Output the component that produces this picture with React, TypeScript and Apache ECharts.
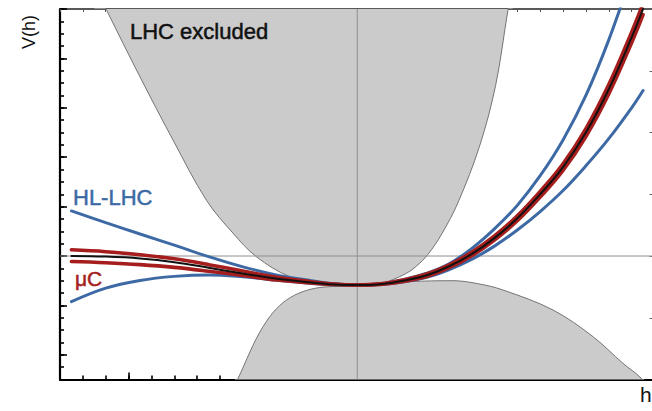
import React, { useEffect, useRef } from "react";
import * as echarts from "echarts";

// Field value h (axis units) and potential V(h)
const hGrid = [-12.5, -11, -9.5, -8, -6.5, -5, -3.5, -2, -1, 0, 1, 2, 3, 4, 5, 6, 7, 8, 9, 10, 11, 12, 12.5];
const smV = [0.0, -0.05, -0.2, -0.5, -0.95, -1.42, -1.85, -2.15, -2.3, -2.35, -2.28, -2.0, -1.58, -0.85, 0.15, 1.45, 3.05, 5.0, 7.2, 10.0, 13.5, 17.7, 20.0];
const muCUpper = [0.5, 0.35, 0.1, -0.22, -0.7, -1.22, -1.72, -2.08, -2.27, -2.35, -2.3, -2.06, -1.68, -0.97, 0.0, 1.28, 2.85, 4.77, 6.93, 9.68, 13.12, 17.27, 19.55];
const muCLower = [-0.45, -0.55, -0.7, -0.92, -1.23, -1.58, -1.95, -2.18, -2.31, -2.35, -2.26, -1.94, -1.48, -0.73, 0.3, 1.62, 3.25, 5.23, 7.47, 10.32, 13.88, 18.13, 20.45];
const hlUpper = [3.65, 2.7, 1.78, 0.88, -0.05, -0.88, -1.55, -2.0, -2.25, -2.35, -2.3, -2.1, -1.75, -1.12, -0.28, 0.8, 2.1, 3.6, 5.3, 7.3, 9.5, 12.0, 13.4];
const hlLower = [-3.7, -2.6, -1.98, -1.65, -1.53, -1.68, -1.97, -2.22, -2.32, -2.35, -2.25, -1.92, -1.42, -0.65, 0.6, 2.2, 4.1, 6.5, 9.4, 13.0, 17.5, 22.8, 25.7];

// LHC excluded regions (boundaries)
const lhcTopH = [-11.5, -10.96, -9.5, -8.06, -6.59, -5.44, -4.41, -2.95, -1.64, -0.5, 0.5, 1.1, 2.1, 2.6, 3.1, 3.7, 4.4, 5.35, 6.05, 6.59, 6.8];
const lhcTopV = [22, 19.9, 14.5, 9.4, 4.5, 1.86, -0.06, -1.68, -2.2, -2.3, -2.3, -2.2, -1.45, -0.8, 0.15, 1.8, 4.3, 8.9, 13.8, 19.9, 22];
const lhcBotH = [-5.35, -5.21, -4.12, -3.09, -1.64, -0.5, 0.5, 1.28, 2.3, 4.19, 5.3, 6.37, 8.56, 10.31, 11.62, 12.42, 12.55];
const lhcBotV = [-10.5, -9.9, -5.72, -3.56, -2.55, -2.45, -2.42, -2.3, -2.08, -2.0, -2.25, -2.75, -4.37, -6.53, -8.69, -9.9, -10.5];

// Axes
const hMin = -13, hMax = 13;
const vMin = -10, vMax = 20;
const hMajorTicks = [-10, -5, 0, 5, 10];
const vMajorTicks = [-8, -4, 0, 4, 8, 12, 16, 20];
const vRightTicks = [-5, 0, 5, 10, 15];

const BLUE = "#3d6aa4";
const RED = "#a51d1d";
const FONT = "'Liberation Sans', Arial, Helvetica, sans-serif";

const zip = (xs: number[], ys: number[]) => xs.map((x, i) => [x, ys[i]]);

function curve(name: string, ys: number[], color: string, width: number, z: number) {
  return {
    name,
    type: "line",
    data: zip(hGrid, ys),
    smooth: 0.4,
    showSymbol: false,
    symbol: "none",
    clip: true,
    z,
    lineStyle: { color, width, cap: "round" },
    silent: true,
  };
}

function buildOption() {
  const baseX = {
    type: "value",
    min: hMin,
    max: hMax,
    axisLabel: { show: false },
    splitLine: { show: false },
  };
  const baseY = {
    type: "value",
    min: vMin,
    max: vMax,
    axisLabel: { show: false },
    splitLine: { show: false },
  };
  return {
    animation: false,
    grid: { left: 60, right: 0.5, top: 9, bottom: 31.5, show: false },
    xAxis: [
      {
        ...baseX,
        interval: 1,
        position: "bottom",
        axisLine: { show: true, onZero: false, lineStyle: { color: "#000", width: 2.2 } },
        axisTick: { show: true, inside: true, length: 4, lineStyle: { color: "#000", width: 1.6 } },
      },
      {
        ...baseX,
        position: "bottom",
        axisLine: { show: false, onZero: false },
        axisTick: { show: true, inside: true, length: 7, customValues: hMajorTicks, lineStyle: { color: "#000", width: 1.6 } },
      },
      {
        ...baseX,
        interval: 1,
        position: "top",
        axisLine: { show: true, onZero: false, lineStyle: { color: "#222", width: 1.6 } },
        axisTick: { show: true, inside: true, length: 3, lineStyle: { color: "#555", width: 1 } },
      },
    ],
    yAxis: [
      {
        ...baseY,
        interval: 1,
        position: "left",
        axisLine: { show: true, onZero: false, lineStyle: { color: "#000", width: 2.2 } },
        axisTick: { show: true, inside: true, length: 4, lineStyle: { color: "#000", width: 1.6 } },
      },
      {
        ...baseY,
        position: "left",
        axisLine: { show: false, onZero: false },
        axisTick: { show: true, inside: true, length: 7, customValues: vMajorTicks, lineStyle: { color: "#000", width: 1.6 } },
      },
      {
        ...baseY,
        position: "right",
        axisLine: { show: true, onZero: false, lineStyle: { color: "#000", width: 2 } },
        axisTick: { show: true, inside: true, length: 5, customValues: vRightTicks, lineStyle: { color: "#666", width: 1 } },
      },
    ],
    series: [
      {
        name: "LHC excluded (upper)",
        type: "line",
        data: zip(lhcTopH, lhcTopV),
        smooth: 0.35,
        showSymbol: false,
        symbol: "none",
        clip: true,
        z: 1,
        silent: true,
        lineStyle: { color: "#747474", width: 1 },
        areaStyle: { color: "#cbcbcb", opacity: 1, origin: "end" },
      },
      {
        name: "LHC excluded (lower)",
        type: "line",
        data: zip(lhcBotH, lhcBotV),
        smooth: 0.35,
        showSymbol: false,
        symbol: "none",
        clip: true,
        z: 1,
        silent: true,
        lineStyle: { color: "#747474", width: 1 },
        areaStyle: { color: "#cbcbcb", opacity: 1, origin: "start" },
      },
      {
        name: "zero V",
        type: "line",
        data: [[hMin, 0], [hMax, 0]],
        showSymbol: false,
        symbol: "none",
        z: 2,
        silent: true,
        lineStyle: { color: "#8e8e8e", width: 1 },
      },
      {
        name: "zero h",
        type: "line",
        data: [[0, vMin], [0, vMax]],
        showSymbol: false,
        symbol: "none",
        z: 2,
        silent: true,
        lineStyle: { color: "#8e8e8e", width: 1 },
      },
      curve("HL-LHC a", hlUpper, BLUE, 3, 3),
      curve("HL-LHC b", hlLower, BLUE, 3, 3),
      curve("μC a", muCUpper, RED, 3.6, 4),
      curve("μC b", muCLower, RED, 3.6, 4),
      curve("SM", smV, "#111", 2, 5),
    ],
    graphic: [
      {
        type: "text",
        x: 130,
        y: 31,
        z: 10,
        style: { text: "LHC excluded", fill: "#111", stroke: "#111", lineWidth: 0.5, font: `22px ${FONT}`, verticalAlign: "middle", align: "left" },
      },
      {
        type: "text",
        x: 73,
        y: 197.7,
        z: 10,
        style: { text: "HL-LHC", fill: BLUE, stroke: BLUE, lineWidth: 0.5, font: `22px ${FONT}`, verticalAlign: "middle", align: "left" },
      },
      {
        type: "text",
        x: 75,
        y: 278,
        z: 10,
        style: { text: "μC", fill: RED, stroke: RED, lineWidth: 0.5, font: `21px ${FONT}`, verticalAlign: "middle", align: "left" },
      },
      {
        type: "text",
        x: 28.5,
        y: 32,
        rotation: Math.PI / 2,
        z: 10,
        style: { text: "V(h)", fill: "#111", font: `18px ${FONT}`, verticalAlign: "middle", align: "center" },
      },
      {
        type: "text",
        x: 640,
        y: 394.4,
        z: 10,
        style: { text: "h", fill: "#111", font: `21px ${FONT}`, verticalAlign: "middle", align: "left" },
      },
    ],
  };
}

export default function App() {
  const ref = useRef<HTMLDivElement>(null);
  useEffect(() => {
    if (!ref.current) return;
    const chart = echarts.init(ref.current, null, { renderer: "svg" });
    chart.setOption(buildOption() as any);
    return () => chart.dispose();
  }, []);
  return (
    <div style={{ position: "fixed", left: 0, top: 0, width: 652, height: 411, overflow: "hidden", background: "#fff" }}>
      <div ref={ref} style={{ width: 655, height: 411 }} />
    </div>
  );
}
